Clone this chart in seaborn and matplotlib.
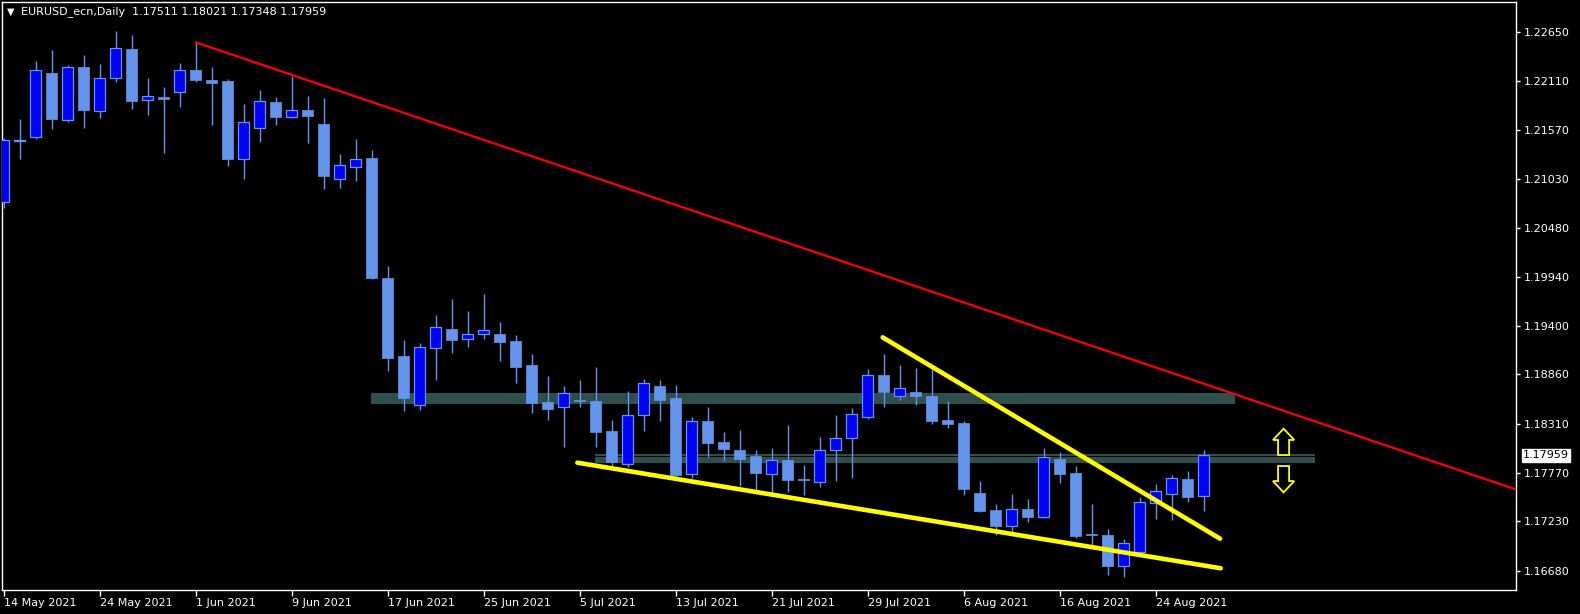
import numpy as np
import matplotlib
matplotlib.use('Agg')
import matplotlib.pyplot as plt
from matplotlib.patches import Rectangle, FancyArrow
from matplotlib.transforms import blended_transform_factory
import seaborn as sns

sns.set_style('dark', {'axes.facecolor': 'black', 'figure.facecolor': 'black'})
plt.rcParams['font.family'] = ['DejaVu Sans']

# daily candles, 14 May 2021 .. 27 Aug 2021
opens = [
    1.20773, 1.21446, 1.21487, 1.22200, 1.21676, 1.22267, 1.21776, 1.22142, 1.22463, 1.21898,
    1.21934, 1.21986, 1.22230, 1.22123, 1.22112, 1.21250, 1.21594, 1.21879, 1.21716, 1.21790,
    1.21635, 1.21022, 1.21155, 1.21258, 1.19927, 1.19062, 1.18522, 1.19154, 1.19361, 1.19247,
    1.19303, 1.19306, 1.19228, 1.18962, 1.18552, 1.18493, 1.18574, 1.18563, 1.18230, 1.17861,
    1.18404, 1.18729, 1.18596, 1.17750, 1.18338, 1.18108, 1.18016, 1.17953, 1.17757, 1.17909,
    1.17703, 1.17668, 1.18016, 1.18149, 1.18389, 1.18848, 1.18615, 1.18663, 1.18618, 1.18352,
    1.18319, 1.17543, 1.17351, 1.17180, 1.17362, 1.17280, 1.17916, 1.17761, 1.17088, 1.17074,
    1.16736, 1.16885, 1.17435, 1.17535, 1.17698, 1.17511]
highs = [
    1.21480, 1.21690, 1.22334, 1.22456, 1.22289, 1.22400, 1.22300, 1.22666, 1.22625, 1.22145,
    1.22045, 1.22311, 1.22541, 1.22267, 1.22134, 1.21857, 1.22015, 1.21934, 1.22167, 1.21942,
    1.21923, 1.21299, 1.21468, 1.21346, 1.20060, 1.19239, 1.19206, 1.19517, 1.19694, 1.19561,
    1.19750, 1.19439, 1.19295, 1.19084, 1.18840, 1.18729, 1.18796, 1.18940, 1.18352, 1.18674,
    1.18807, 1.18796, 1.18740, 1.18385, 1.18496, 1.18219, 1.18241, 1.18020, 1.18038, 1.18293,
    1.17853, 1.18164, 1.18408, 1.18482, 1.18918, 1.19084, 1.18962, 1.18926, 1.18915, 1.18563,
    1.18341, 1.17672, 1.17421, 1.17532, 1.17476, 1.18042, 1.17997, 1.17842, 1.17421, 1.17143,
    1.17029, 1.17502, 1.17642, 1.17742, 1.17787, 1.18021]
lows = [
    1.20703, 1.21247, 1.21474, 1.21583, 1.21660, 1.21594, 1.21705, 1.22104, 1.21805, 1.21735,
    1.21317, 1.21823, 1.22104, 1.21624, 1.21172, 1.21025, 1.21435, 1.21624, 1.21705, 1.21427,
    1.20917, 1.20928, 1.21003, 1.19916, 1.18899, 1.18455, 1.18466, 1.18799, 1.19099, 1.19165,
    1.19254, 1.19010, 1.18766, 1.18433, 1.18356, 1.18056, 1.18500, 1.18056, 1.17828, 1.17828,
    1.18234, 1.18344, 1.17723, 1.17706, 1.17945, 1.17901, 1.17620, 1.17576, 1.17546, 1.17557,
    1.17524, 1.17613, 1.17679, 1.17712, 1.18363, 1.18500, 1.18577, 1.18522, 1.18311, 1.18267,
    1.17524, 1.17332, 1.17080, 1.17102, 1.17224, 1.17269, 1.17657, 1.17047, 1.16963, 1.16637,
    1.16614, 1.16870, 1.17254, 1.17243, 1.17443, 1.17348]
closes = [
    1.21457, 1.21463, 1.22230, 1.21694, 1.22264, 1.21793, 1.22142, 1.22474, 1.21893, 1.21942,
    1.21912, 1.22230, 1.22126, 1.22093, 1.21250, 1.21654, 1.21890, 1.21716, 1.21787, 1.21727,
    1.21061, 1.21177, 1.21243, 1.19930, 1.19043, 1.18600, 1.19158, 1.19380, 1.19243, 1.19303,
    1.19350, 1.19221, 1.18943, 1.18541, 1.18478, 1.18648, 1.18568, 1.18222, 1.17890, 1.18404,
    1.18759, 1.18577, 1.17746, 1.18338, 1.18100, 1.18034, 1.17923, 1.17768, 1.17905, 1.17690,
    1.17687, 1.18016, 1.18149, 1.18415, 1.18848, 1.18666, 1.18704, 1.18622, 1.18344, 1.18311,
    1.17590, 1.17343, 1.17180, 1.17362, 1.17280, 1.17939, 1.17757, 1.17069, 1.17074, 1.16736,
    1.16985, 1.17440, 1.17562, 1.17706, 1.17502, 1.17959]

date_labels = ['14 May 2021', '24 May 2021', '1 Jun 2021', '9 Jun 2021', '17 Jun 2021',
               '25 Jun 2021', '5 Jul 2021', '13 Jul 2021', '21 Jul 2021', '29 Jul 2021',
               '6 Aug 2021', '16 Aug 2021', '24 Aug 2021']
price_ticks = [1.22650, 1.22110, 1.21570, 1.21030, 1.20480, 1.19940, 1.19400,
               1.18860, 1.18310, 1.17770, 1.17230, 1.16680]
last_price = 1.17959

# drawn objects (bar index, price)
red_x, red_y = [12, 100], [1.22541, 1.17253]
wedge_top_x, wedge_top_y = [54.94, 76.03], [1.19269, 1.17036]
wedge_bot_x, wedge_bot_y = [35.86, 76.07], [1.17879, 1.16708]
zone_upper = (22.96, 76.96, 1.18530, 1.18652)
zone_lower = (36.96, 81.96, 1.17879, 1.17942)
zone_lower_edge = (36.96, 81.96, 1.17953, 1.17972)

o, h, l, c = map(np.array, (opens, highs, lows, closes))
x = np.arange(len(o))
up = c >= o
bot = np.minimum(o, c)
hgt = np.maximum(np.abs(c - o), 0.00007)

fig = plt.figure(figsize=(15.8, 6.14), dpi=100)
ax = fig.add_axes([2 / 1580, 24 / 614, 1514 / 1580, 588 / 614])
ax.set_facecolor('black')

for x0, x1, y0, y1 in (zone_upper, zone_lower, zone_lower_edge):
    ax.add_patch(Rectangle((x0, y0), x1 - x0, y1 - y0, facecolor='#2f4f4f',
                           edgecolor='none', zorder=1))

ax.vlines(x, l, h, color='#6495ed', lw=1, zorder=3)
ax.bar(x[up], hgt[up], bottom=bot[up], width=0.69, color='#0000ff',
       edgecolor='#6495ed', linewidth=0.9, zorder=4)
ax.bar(x[~up], hgt[~up], bottom=bot[~up], width=0.69, color='#6495ed',
       edgecolor='#6495ed', linewidth=0.5, zorder=4)

sns.lineplot(x=red_x, y=red_y, color='#ff0000', lw=1.6, ax=ax, zorder=5)
sns.lineplot(x=wedge_top_x, y=wedge_top_y, color='#ffff00', lw=3.3, ax=ax, zorder=5)
sns.lineplot(x=wedge_bot_x, y=wedge_bot_y, color='#ffff00', lw=3.3, ax=ax, zorder=5)

# up / down arrows
ax.add_patch(FancyArrow(80, 1.17964, 0, 0.00292, width=0.69, head_width=1.33,
                        head_length=0.00125, length_includes_head=True,
                        facecolor='black', edgecolor='#ffff00', lw=1.3, zorder=6))
ax.add_patch(FancyArrow(80, 1.17842, 0, -0.00292, width=0.69, head_width=1.33,
                        head_length=0.00125, length_includes_head=True,
                        facecolor='black', edgecolor='#ffff00', lw=1.3, zorder=6))

ax.set_xlim(-0.1, 94.525)
ax.set_ylim(1.16467, 1.22988)
ax.grid(False)
for s in ax.spines.values():
    s.set_color('white')
    s.set_linewidth(1)
    s.set_visible(True)

ax.set_xticks(np.arange(0, 6 * len(date_labels), 6))
ax.set_xticklabels(date_labels)
for lab in ax.get_xticklabels():
    lab.set_ha('left')
ax.yaxis.tick_right()
ax.set_yticks(price_ticks)
ax.set_yticklabels([f'{p:.5f}' for p in price_ticks])
ax.tick_params(axis='x', colors='white', length=4, width=1, pad=1.5, labelsize=8,
               bottom=True, direction='out')
ax.tick_params(axis='y', colors='white', length=3, width=1, pad=2.5, labelsize=8,
               right=True, left=False, direction='out')

tr = blended_transform_factory(ax.transAxes, ax.transData)
ax.text(1.0047, last_price, f'{last_price:.5f}', transform=tr, color='black',
        fontsize=8, va='center', ha='left', zorder=10, clip_on=False,
        bbox=dict(boxstyle='square,pad=0.12', facecolor='white', edgecolor='white'))

fig.text(7 / 1580, 1 - 12 / 614, '▼', color='white', fontsize=7, va='center', ha='left')
fig.text(21 / 1580, 1 - 12 / 614, 'EURUSD_ecn,Daily  1.17511 1.18021 1.17348 1.17959',
         color='white', fontsize=8, va='center', ha='left')

fig.savefig('out.png', dpi=100, facecolor='black')
